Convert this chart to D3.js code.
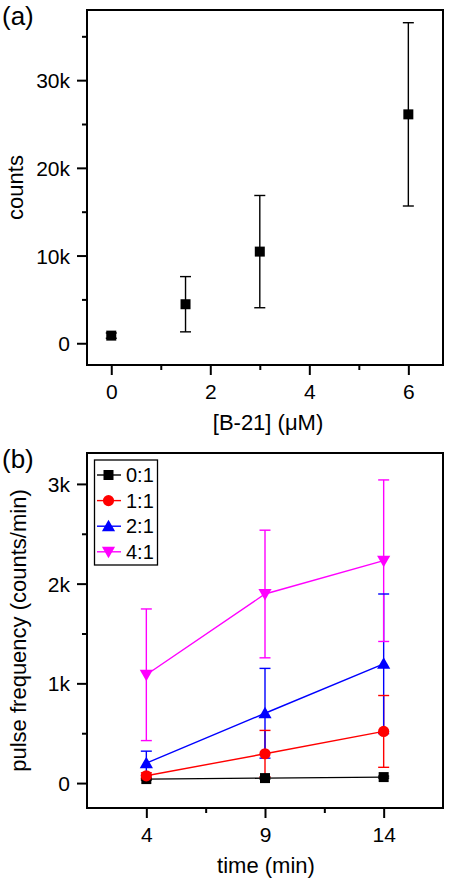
<!DOCTYPE html>
<html><head><meta charset="utf-8">
<script src="https://cdn.jsdelivr.net/npm/d3@7"></script>
<style>
html,body{margin:0;padding:0;background:#fff;}
svg{display:block;font-family:"Liberation Sans",Arial,sans-serif;}
</style></head>
<body>
<svg id="chart" width="450" height="882"></svg>
<script>
// ---- Panel (a) data ----
const aConc = [0, 1.5, 3, 6];
const aCounts = [870, 4450, 10450, 26100];
const aErr = [300, 3150, 6400, 10450];
const aXTicks = [0, 2, 4, 6];
const aYTicks = [0, 10000, 20000, 30000];
const aYTickLabels = ["0", "10k", "20k", "30k"];

// ---- Panel (b) data ----
const bTimes = [4, 9, 14];
const bSeriesNames = ["0:1", "1:1", "2:1", "4:1"];
const bVal01 = [40, 50, 60];
const bErr01 = [10, 10, 10];
const bVal11 = [73, 294, 518];
const bErr11 = [30, 234, 360];
const bVal21 = [200, 700, 1196];
const bErr21 = [120, 450, 700];
const bVal41 = [1086, 1896, 2230];
const bErr41 = [660, 640, 810];
const bYTicks = [0, 1000, 2000, 3000];
const bYTickLabels = ["0", "1k", "2k", "3k"];

const svg = d3.select("#chart");
const FONT = '"Liberation Sans",Arial,sans-serif';

function markerPath(shape, cx, cy) {
  if (shape === "square") { const h = 5; return `M${cx-h},${cy-h}h${2*h}v${2*h}h${-2*h}Z`; }
  if (shape === "circle") { const r = 5.6; return `M${cx-r},${cy}a${r},${r} 0 1,0 ${2*r},0a${r},${r} 0 1,0 ${-2*r},0Z`; }
  if (shape === "up") { return `M${cx},${cy-6.5}L${cx+6.6},${cy+5}L${cx-6.6},${cy+5}Z`; }
  if (shape === "down") { return `M${cx},${cy+6.5}L${cx+6.6},${cy-5}L${cx-6.6},${cy-5}Z`; }
}

function drawFrame(g, x0, y0, x1, y1) {
  g.append("rect").attr("x", x0).attr("y", y0).attr("width", x1 - x0).attr("height", y1 - y0)
    .attr("fill", "none").attr("stroke", "#000").attr("stroke-width", 2);
}

function drawAxes(g, x, y, xTicks, xMinor, yTicks, yLabels, yMinor, x0, y0, x1, y1) {
  const xa = g.append("g").attr("transform", `translate(0,${y1})`)
    .call(d3.axisBottom(x).tickValues(xMinor).tickSize(5).tickFormat(""));
  const xb = g.append("g").attr("transform", `translate(0,${y1})`)
    .call(d3.axisBottom(x).tickValues(xTicks).tickSize(10).tickPadding(8).tickFormat(d3.format("d")));
  const ya = g.append("g").attr("transform", `translate(${x0},0)`)
    .call(d3.axisLeft(y).tickValues(yMinor).tickSize(5).tickFormat(""));
  const yb = g.append("g").attr("transform", `translate(${x0},0)`)
    .call(d3.axisLeft(y).tickValues(yTicks).tickSize(10).tickPadding(7).tickFormat((d, i) => yLabels[i]));
  [xa, xb, ya, yb].forEach(a => {
    a.select(".domain").remove();
    a.selectAll(".tick line").attr("stroke", "#000").attr("stroke-width", 2);
    a.selectAll(".tick text").attr("fill", "#000").style("font-size", "21px").style("font-family", FONT);
  });
  xb.selectAll(".tick text").attr("dy", null).attr("y", 34).attr("dominant-baseline", null);
  yb.selectAll(".tick text").attr("dy", "0.36em");
  drawFrame(g, x0, y0, x1, y1);
}

// ================= Panel (a) =================
{
  const x0 = 87, y0 = 10, x1 = 443, y1 = 365;
  const x = d3.scaleLinear().domain([-0.49, 6.7]).range([x0, x1]);
  const y = d3.scaleLinear().domain([-2480, 38000]).range([y1, y0]);
  const g = svg.append("g");
  drawAxes(g, x, y, aXTicks, [1, 3, 5], aYTicks, aYTickLabels, [5000, 15000, 25000, 35000], x0, y0, x1, y1);

  const pts = aConc.map((c, i) => ({ c, v: aCounts[i], e: aErr[i] }));
  const eb = g.append("g").attr("stroke", "#000").attr("stroke-width", 1.4);
  pts.forEach(p => {
    eb.append("line").attr("x1", x(p.c)).attr("x2", x(p.c)).attr("y1", y(p.v - p.e)).attr("y2", y(p.v + p.e));
    [p.v - p.e, p.v + p.e].forEach(v => eb.append("line").attr("x1", x(p.c) - 5.5).attr("x2", x(p.c) + 5.5).attr("y1", y(v)).attr("y2", y(v)));
  });
  g.append("g").selectAll("path").data(pts).join("path")
    .attr("d", p => markerPath("square", x(p.c), y(p.v))).attr("fill", "#000");

  g.append("text").attr("x", (x0 + x1) / 2 + 3).attr("y", 430).attr("text-anchor", "middle")
    .style("font-size", "22px").text("[B-21] (\u03BCM)");
  g.append("text").attr("transform", `translate(22.7,${(y0 + y1) / 2}) rotate(-90)`).attr("text-anchor", "middle")
    .style("font-size", "22px").text("counts");
  g.append("text").attr("x", 2).attr("y", 25).style("font-size", "26px").text("(a)");
}

// ================= Panel (b) =================
{
  const x0 = 87, y0 = 453, x1 = 443, y1 = 808;
  const x = d3.scaleLinear().domain([1.5, 16.5]).range([x0, x1]);
  const y = d3.scaleLinear().domain([-250, 3310]).range([y1, y0]);
  const g = svg.append("g");
  drawAxes(g, x, y, bTimes, [6.5, 11.5], bYTicks, bYTickLabels, [500, 1500, 2500], x0, y0, x1, y1);

  const colors = ["#000000", "#ff0000", "#0000ff", "#ff00ff"];
  const shapes = ["square", "circle", "up", "down"];
  const vals = [bVal01, bVal11, bVal21, bVal41];
  const errs = [bErr01, bErr11, bErr21, bErr41];
  const series = bSeriesNames.map((n, k) => ({
    name: n, color: colors[k], shape: shapes[k],
    pts: bTimes.map((t, i) => ({ t, v: vals[k][i], e: errs[k][i] }))
  }));

  const barsG = g.append("g");
  const capsG = g.append("g");
  series.forEach(s => {
    s.pts.forEach(p => {
      barsG.append("line").attr("stroke", s.color).attr("stroke-width", 1.4)
        .attr("x1", x(p.t)).attr("x2", x(p.t)).attr("y1", y(p.v - p.e)).attr("y2", y(p.v + p.e));
      [p.v - p.e, p.v + p.e].forEach(v => capsG.append("line").attr("stroke", s.color).attr("stroke-width", 1.4)
        .attr("x1", x(p.t) - 5.5).attr("x2", x(p.t) + 5.5).attr("y1", y(v)).attr("y2", y(v)));
    });
  });
  const line = d3.line().x(p => x(p.t)).y(p => y(p.v));
  series.forEach(s => {
    g.append("path").datum(s.pts).attr("d", line).attr("fill", "none").attr("stroke", s.color).attr("stroke-width", 1.4);
    g.append("g").selectAll("path").data(s.pts).join("path")
      .attr("d", p => markerPath(s.shape, x(p.t), y(p.v))).attr("fill", s.color);
  });

  // legend
  const lg = g.append("g");
  lg.append("rect").attr("x", 94.5).attr("y", 460).attr("width", 63).attr("height", 105)
    .attr("fill", "#fff").attr("stroke", "#000").attr("stroke-width", 1.3);
  series.forEach((s, k) => {
    const ly = 475 + k * 25.6;
    lg.append("line").attr("x1", 97).attr("x2", 121).attr("y1", ly).attr("y2", ly).attr("stroke", s.color).attr("stroke-width", 1.4);
    lg.append("path").attr("d", markerPath(s.shape, 108.5, ly)).attr("fill", s.color);
    lg.append("text").attr("x", 126).attr("y", ly).attr("dy", "0.36em").style("font-size", "20px").text(s.name);
  });

  g.append("text").attr("x", (x0 + x1) / 2 + 1).attr("y", 873).attr("text-anchor", "middle")
    .style("font-size", "22px").text("time (min)");
  g.append("text").attr("transform", `translate(25.5,${(y0 + y1) / 2}) rotate(-90)`).attr("text-anchor", "middle")
    .style("font-size", "22px").text("pulse frequency (counts/min)");
  g.append("text").attr("x", 2).attr("y", 468).style("font-size", "26px").text("(b)");
}
</script>
</body></html>
